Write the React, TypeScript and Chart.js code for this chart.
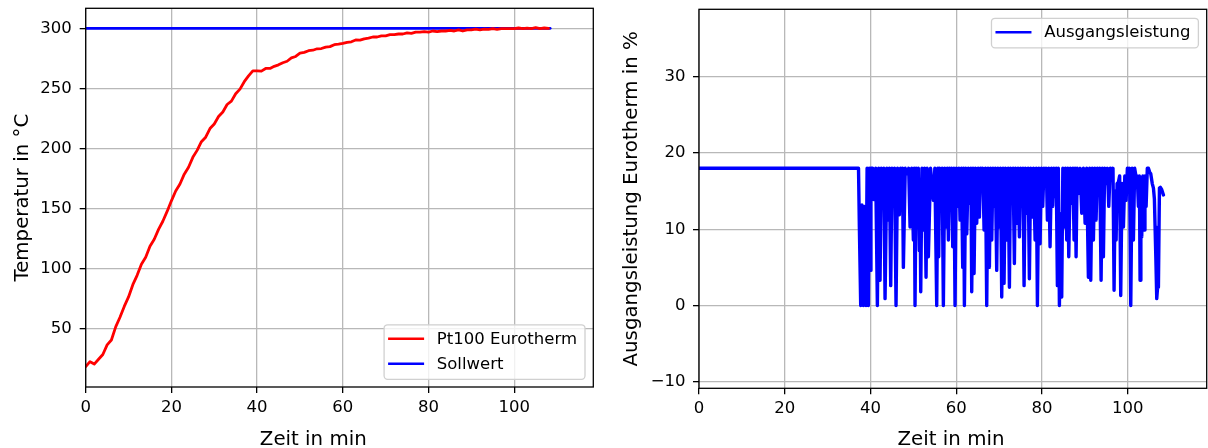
import React, { useEffect, useRef } from 'react';
import { Chart, registerables } from 'chart.js';

Chart.register(...registerables);

const FONT = '"DejaVu Sans", "Liberation Sans", sans-serif';

// ---------- Left panel data: temperature ----------
const tempTime = [
  0, 1, 2, 3, 4, 5, 6, 7, 8, 9,
  10, 11, 12, 13, 14, 15, 16, 17, 18, 19,
  20, 21, 22, 23, 24, 25, 26, 27, 28, 29,
  30, 31, 32, 33, 34, 35, 36, 37, 38, 39,
  40, 41, 42, 43, 44, 45, 46, 47, 48, 49,
  50, 51, 52, 53, 54, 55, 56, 57, 58, 59,
  60, 61, 62, 63, 64, 65, 66, 67, 68, 69,
  70, 71, 72, 73, 74, 75, 76, 77, 78, 79,
  80, 81, 82, 83, 84, 85, 86, 87, 88, 89,
  90, 91, 92, 93, 94, 95, 96, 97, 98, 99,
  100, 101, 102, 103, 104, 105, 106, 107, 108,
];
const tempValue = [
  18.5, 22.5, 20.5, 24.5, 28.5, 36.5, 40.5, 51.5, 59.5, 68.5,
  76.4, 86.6, 94.4, 103.6, 109.4, 118.6, 124.4, 132.6, 139.4, 147.6,
  156.4, 164.6, 170.4, 178.6, 184.4, 192.6, 198.4, 205.6, 209.4, 216.6,
  220.4, 226.6, 230.4, 236.6, 239.4, 245.6, 249.4, 255.6, 260.4, 264.6,
  264.6, 264.4, 266.6, 266.6, 268.4, 269.6, 271.4, 272.6, 275.4, 276.6,
  279.4, 280, 281.4, 281.8, 283, 283.2, 284.4, 284.8, 286.4, 286.8,
  287.5, 288.4, 288.8, 290.3, 290.2, 291.3, 291.8, 292.8, 292.8, 293.8,
  293.8, 294.8, 294.8, 295.3, 295.3, 296.3, 295.8, 296.8, 296.8, 297.3,
  296.8, 297.8, 297.3, 297.8, 297.8, 298.3, 297.8, 298.8, 297.8, 298.8,
  298.8, 299.3, 298.8, 299.3, 299.2, 299.8, 299.2, 299.8, 299.7, 299.8,
  299.8, 300.3, 299.8, 300.2, 299.8, 300.6, 299.8, 300.3, 300,
];
const setpointTime = [0, 108.4];
const setpointValue = [300, 300];

// ---------- Right panel data: output power ----------
const powerTime = [
  0, 37.2, 37.4, 37.71, 38.0, 38.33, 38.6, 38.95, 39.2, 39.5,
  39.7, 39.89, 40.1, 40.5, 40.82, 41.2, 41.6, 41.9, 42.22, 42.5,
  42.84, 43.1, 43.39, 43.8, 44.16, 44.4, 44.71, 45.0, 45.33, 45.6,
  45.95, 46.3, 46.73, 47.0, 47.27, 47.45, 47.66, 48.1, 48.6, 48.9,
  49.22, 49.6, 49.99, 50.2, 50.38, 50.65, 50.93, 51.15, 51.39, 51.55,
  51.71, 52.0, 52.33, 52.6, 52.95, 53.2, 53.49, 54.0, 54.66, 55.0,
  55.44, 55.7, 55.9, 56.1, 56.37, 56.7, 56.99, 57.3, 57.61, 57.9,
  58.16, 58.4, 58.7, 58.9, 59.17, 59.45, 59.71, 60.0, 60.26, 60.6,
  60.88, 61.2, 61.5, 61.7, 61.89, 62.2, 62.44, 62.8, 63.21, 63.4,
  63.6, 63.9, 64.15, 64.45, 64.77, 65.1, 65.39, 65.65, 65.93, 66.2,
  66.48, 66.8, 67.1, 67.4, 67.72, 68.0, 68.27, 68.55, 68.81, 69.1,
  69.43, 69.7, 69.98, 70.3, 70.6, 70.9, 71.14, 71.45, 71.76, 72.1,
  72.39, 72.65, 72.93, 73.25, 73.55, 73.8, 74.1, 74.4, 74.72, 75.0,
  75.34, 75.55, 75.81, 76.1, 76.43, 76.75, 77.05, 77.35, 77.67, 78.0,
  78.38, 78.65, 78.92, 79.25, 79.54, 79.85, 80.16, 80.45, 80.71, 81.0,
  81.25, 81.55, 81.87, 82.2, 82.49, 82.75, 83.04, 83.3, 83.58, 83.8,
  84.05, 84.3, 84.59, 84.85, 85.14, 85.45, 85.76, 86.0, 86.23, 86.6,
  86.93, 87.2, 87.47, 87.7, 87.94, 88.2, 88.48, 88.9, 89.26, 89.65,
  90.04, 90.4, 90.81, 91.1, 91.36, 91.7, 91.98, 92.3, 92.6, 92.9,
  93.15, 93.45, 93.77, 94.05, 94.31, 94.6, 94.93, 95.25, 95.56, 95.9,
  96.26, 96.55, 96.8, 97.05, 97.27, 97.5, 97.81, 98.1, 98.35, 98.65,
  98.98, 99.3, 99.6, 99.9, 100.14, 100.4, 100.69, 101.0, 101.31, 101.6,
  101.93, 102.2, 102.48, 102.7, 102.86, 103.05, 103.25, 103.5, 103.8, 104.0,
  104.27, 104.55, 104.81, 105.1, 105.35, 105.7, 105.98, 106.2, 106.36, 106.55,
  106.75, 106.95, 107.14, 107.38, 107.6, 107.92, 108.31,
];
const powerValue = [
  18, 18, 10.3, 0, 13.2, 0, 13.0, 0, 18, 0,
  18, 4.6, 18, 18, 13.9, 18, 0, 18, 3.3, 18,
  15.4, 18, 0.9, 18, 11.2, 18, 2.6, 18, 13.0, 18,
  0, 18, 11.9, 18, 14.3, 18, 5.0, 18, 17.3, 18,
  10.3, 18, 8.6, 18, 0, 18, 11.2, 18, 7.2, 14,
  1.8, 18, 9.9, 18, 3.7, 18, 6.4, 18, 13.8, 18,
  0, 18, 6.4, 18, 13.0, 18, 0, 18, 10.3, 18,
  8.6, 18, 13.8, 18, 7.7, 18, 0, 18, 13.0, 18,
  11.2, 18, 5.0, 18, 0, 18, 9.4, 18, 13.4, 18,
  1.8, 18, 4.2, 18, 10.8, 18, 11.6, 18, 17.3, 18,
  9.9, 18, 0, 18, 5.0, 18, 8.6, 18, 13.0, 18,
  4.6, 18, 10.3, 18, 1.1, 18, 2.9, 18, 8.6, 18,
  2.4, 18, 13.8, 18, 5.5, 18, 10.8, 18, 9.0, 18,
  13.8, 18, 2.6, 18, 12.1, 18, 3.5, 18, 11.6, 18,
  8.6, 18, 0, 18, 8.1, 18, 13.0, 18, 16.9, 18,
  11.2, 18, 7.7, 18, 13.0, 18, 14.3, 18, 2.6, 18,
  0, 12, 1.1, 18, 10.3, 18, 8.6, 18, 6.4, 18,
  13.4, 18, 8.6, 18, 6.4, 18, 14.7, 18, 12.1, 18,
  10.8, 18, 3.7, 18, 3.3, 18, 8.6, 18, 11.2, 18,
  15.1, 18, 3.3, 18, 6.4, 18, 16.0, 18, 13.0, 18,
  16.9, 18, 2.0, 15, 8.6, 16, 16.2, 17, 1.3, 16,
  10.3, 17, 13.8, 18, 17.3, 18, 0, 18, 8.6, 18,
  16.9, 17, 13.0, 17, 3.3, 16, 9.0, 17, 9.9, 17,
  13.0, 18, 18, 17.5, 17.3, 16, 15.4, 14, 10.3, 6,
  0.9, 2.4, 2.4, 15.4, 15.5, 15.2, 14.5,
];

// ---------- Axis ticks ----------
const leftXTicks = [0, 20, 40, 60, 80, 100];
const leftYTicks = [50, 100, 150, 200, 250, 300];
const rightXTicks = [0, 20, 40, 60, 80, 100];
const rightYTicks = [-10, 0, 10, 20, 30];

const TICK_SIZE = 16.5;
const LABEL_SIZE = 19.8;

const fmt = (v: number) => (v < 0 ? '\u2212' + Math.abs(v) : String(v));

function axis(min: number, max: number, ticks: number[], isX: boolean, size: number, padding: number) {
  return {
    type: 'linear',
    min,
    max,
    afterBuildTicks: (s: any) => {
      s.ticks = ticks.map((v) => ({ value: v }));
    },
    afterFit: (s: any) => {
      if (isX) s.height = size;
      else s.width = size;
      s.paddingTop = 0;
      s.paddingBottom = 0;
      s.paddingLeft = 0;
      s.paddingRight = 0;
    },
    grid: {
      color: '#b8b8b8',
      lineWidth: 1.3,
      drawTicks: true,
      tickLength: 6,
      tickColor: '#000',
      tickWidth: 1.3,
    },
    border: { display: false },
    ticks: {
      font: { family: FONT, size: TICK_SIZE },
      color: '#000',
      padding,
      maxRotation: 0,
      autoSkip: false,
      callback: (v: any) => fmt(Number(v)),
    },
  };
}

const mplPlugin = {
  id: 'mpl',
  afterDatasetsDraw(chart: any, _args: any, opts: any) {
    const { ctx, chartArea: a } = chart;
    ctx.save();
    // frame (spines)
    ctx.strokeStyle = '#000';
    ctx.lineWidth = 1.3;
    ctx.strokeRect(a.left, a.top, a.right - a.left, a.bottom - a.top);

    // axis titles
    ctx.fillStyle = '#000';
    ctx.font = `${LABEL_SIZE}px ${FONT}`;
    ctx.textAlign = 'center';
    ctx.textBaseline = 'alphabetic';
    ctx.fillText(opts.xTitle, opts.xTitleX, opts.xTitleY);
    ctx.save();
    ctx.translate(opts.yTitleX, (a.top + a.bottom) / 2);
    ctx.rotate(-Math.PI / 2);
    ctx.textBaseline = 'middle';
    ctx.fillText(opts.yTitle, 0, 0);
    ctx.restore();

    // legend
    const items = chart.data.datasets.map((d: any) => ({ label: d.label, color: d.borderColor }));
    ctx.font = `${TICK_SIZE}px ${FONT}`;
    let tw = 0;
    items.forEach((it: any) => {
      tw = Math.max(tw, ctx.measureText(it.label).width);
    });
    const w = 4 + 36 + 12.7 + tw + 8;
    const h = 14 + (items.length - 1) * 25 + 15.5;
    const x = a.right - 8.3 - w;
    const y = opts.legendPos === 'lower right' ? a.bottom - 7.7 - h : a.top + 9;
    const r = 3.5;
    ctx.beginPath();
    ctx.moveTo(x + r, y);
    ctx.lineTo(x + w - r, y);
    ctx.arcTo(x + w, y, x + w, y + r, r);
    ctx.lineTo(x + w, y + h - r);
    ctx.arcTo(x + w, y + h, x + w - r, y + h, r);
    ctx.lineTo(x + r, y + h);
    ctx.arcTo(x, y + h, x, y + h - r, r);
    ctx.lineTo(x, y + r);
    ctx.arcTo(x, y, x + r, y, r);
    ctx.closePath();
    ctx.fillStyle = 'rgba(255,255,255,0.8)';
    ctx.fill();
    ctx.strokeStyle = '#d0d0d0';
    ctx.lineWidth = 1.3;
    ctx.stroke();
    items.forEach((it: any, i: number) => {
      const cy = y + 14 + i * 25;
      ctx.strokeStyle = it.color;
      ctx.lineWidth = 2.6;
      ctx.beginPath();
      ctx.moveTo(x + 4, cy);
      ctx.lineTo(x + 40, cy);
      ctx.stroke();
      ctx.fillStyle = '#000';
      ctx.textAlign = 'left';
      ctx.textBaseline = 'middle';
      ctx.fillText(it.label, x + 52.7, cy + 0.5);
    });
    ctx.restore();
  },
};

function lineDs(label: string, xs: number[], ys: number[], color: string, width: number) {
  return {
    label,
    data: xs.map((t, i) => ({ x: t, y: ys[i] })),
    borderColor: color,
    backgroundColor: color,
    borderWidth: width,
    borderJoinStyle: 'round',
    borderCapStyle: 'round',
    pointRadius: 0,
    fill: false,
    tension: 0,
  };
}

export default function App() {
  const leftRef = useRef<HTMLCanvasElement>(null);
  const rightRef = useRef<HTMLCanvasElement>(null);

  useEffect(() => {
    const left = new Chart(leftRef.current as HTMLCanvasElement, {
      type: 'line',
      data: {
        datasets: [
          lineDs('Pt100 Eurotherm', tempTime, tempValue, '#ff0000', 2.8),
          lineDs('Sollwert', setpointTime, setpointValue, '#0000ff', 2.6),
        ],
      } as any,
      options: {
        animation: false,
        responsive: false,
        devicePixelRatio: 1,
        layout: { padding: { top: 8.3, right: 604 - 593.3, left: 0, bottom: 0 } },
        scales: {
          x: axis(0, 118.45, leftXTicks, true, 61, 4.5),
          y: axis(1.4, 316.7, leftYTicks, false, 85.7, 8),
        } as any,
        plugins: {
          legend: { display: false },
          tooltip: { enabled: false },
          mpl: {
            xTitle: 'Zeit in min',
            xTitleX: 313.3,
            xTitleY: 445,
            yTitle: 'Temperatur in °C',
            yTitleX: 22.5,
            legendPos: 'lower right',
          },
        } as any,
      },
      plugins: [mplPlugin],
    });

    const right = new Chart(rightRef.current as HTMLCanvasElement, {
      type: 'line',
      data: {
        datasets: [lineDs('Ausgangsleistung', powerTime, powerValue, '#0000ff', 3.4)],
      } as any,
      options: {
        animation: false,
        responsive: false,
        devicePixelRatio: 1,
        layout: { padding: { top: 9.3, right: 604 - 602.7, left: 0, bottom: 0 } },
        scales: {
          x: axis(0, 118.4, rightXTicks, true, 59.7, 4.5),
          y: axis(-10.87, 38.87, rightYTicks, false, 95, 7.5),
        } as any,
        plugins: {
          legend: { display: false },
          tooltip: { enabled: false },
          mpl: {
            xTitle: 'Zeit in min',
            xTitleX: 347,
            xTitleY: 445,
            yTitle: 'Ausgangsleistung Eurotherm in %',
            yTitleX: 28,
            legendPos: 'upper right',
          },
        } as any,
      },
      plugins: [mplPlugin],
    });

    return () => {
      left.destroy();
      right.destroy();
    };
  }, []);

  return (
    <div style={{ position: 'fixed', left: 0, top: 0, width: 1208, height: 448, background: '#fff' }}>
      <canvas
        ref={leftRef}
        width={604}
        height={448}
        style={{ position: 'absolute', left: 0, top: 0, width: 604, height: 448, display: 'block' }}
      />
      <canvas
        ref={rightRef}
        width={604}
        height={448}
        style={{ position: 'absolute', left: 604, top: 0, width: 604, height: 448, display: 'block' }}
      />
    </div>
  );
}
